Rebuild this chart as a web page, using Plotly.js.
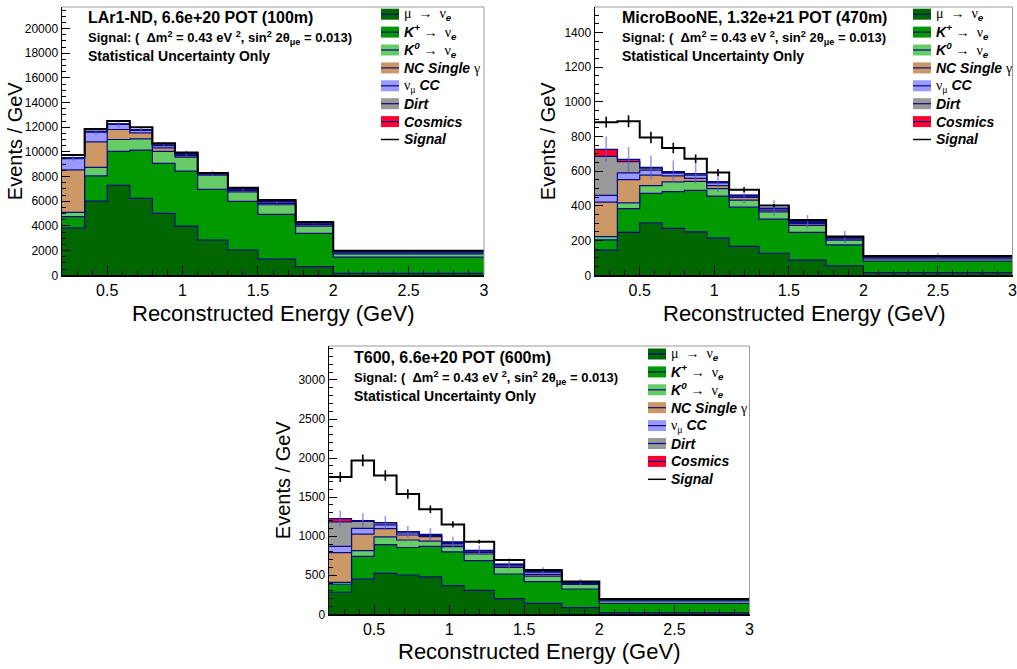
<!DOCTYPE html>
<html>
<head>
<meta charset="utf-8">
<script src="https://cdn.plot.ly/plotly-3.0.1.min.js"></script>
<style>html,body{margin:0;padding:0;background:#fff}#chart{width:1017px;height:669px}</style>
</head>
<body>
<div id="chart"></div>
<script>
// ---------- data (Events / GeV) ----------
const binEdges = [0.2, 0.35, 0.5, 0.65, 0.8, 0.95, 1.1, 1.3, 1.5, 1.75, 2.0, 3.0];

const componentNames = ["mu_to_nue", "kplus_to_nue", "k0_to_nue", "nc_single_gamma", "numu_cc", "dirt", "cosmics"];

// LAr1-ND, 6.6e+20 POT (100m)
const lar1ndMuToNue      = [3850, 6020, 7290, 6240, 5020, 3990, 2860, 2050, 1320, 700, 160];
const lar1ndKPlusToNue   = [900, 2040, 2750, 3910, 4050, 4460, 4110, 3940, 3620, 2700, 1320];
const lar1ndK0ToNue      = [350, 690, 970, 910, 970, 1130, 1150, 780, 780, 590, 245];
const lar1ndNCSingleGamma= [3450, 2070, 810, 490, 290, 120, 80, 110, 110, 110, 75];
const lar1ndNumuCC       = [900, 780, 410, 200, 190, 130, 50, 80, 120, 130, 100];
const lar1ndDirt         = [60, 50, 30, 40, 30, 20, 10, 20, 25, 20, 25];
const lar1ndCosmics      = [40, 30, 20, 30, 20, 10, 10, 10, 15, 10, 15];
const lar1ndSignal       = [200, 170, 220, 180, 130, 90, 30, 100, 110, 60, 50];
const lar1ndBkgErr       = [250, 280, 290, 280, 260, 250, 200, 190, 160, 130, 45];
const lar1ndSigErr       = [35, 35, 38, 35, 30, 25, 12, 22, 21, 15, 7];

// MicroBooNE, 1.32e+21 POT (470m)
const uboonMuToNue       = [145, 248, 303, 271, 250, 214, 167, 127, 88, 54, 15];
const uboonKPlusToNue    = [59, 136, 169, 212, 240, 243, 226, 197, 160, 121, 67];
const uboonK0ToNue       = [19, 34, 45, 56, 52, 43, 41, 42, 40, 28, 12];
const uboonNCSingleGamma = [199, 134, 61, 34, 17, 17, 15, 10, 10, 7, 6];
const uboonNumuCC        = [39, 38, 28, 16, 19, 16, 8, 8, 7, 7, 6];
const uboonDirt          = [225, 65, 12, 4, 6, 4, 4, 2, 2, 2, 2];
const uboonCosmics       = [40, 13, 4, 5, 3, 3, 2, 2, 2, 2, 2];
const uboonSignal        = [157, 220, 173, 136, 85, 53, 30, 14, 10, 3, 2];
const uboonBkgErr        = [73, 72, 69, 66, 62, 60, 47, 46, 38, 35, 19];
const uboonSigErr        = [31, 35, 33, 30, 25, 20, 14, 9, 6, 4, 2];

// T600, 6.6e+20 POT (600m)
const t600MuToNue        = [282, 450, 525, 503, 478, 366, 307, 200, 141, 85, 21];
const t600KPlusToNue     = [103, 292, 368, 352, 392, 432, 380, 316, 277, 239, 120];
const t600K0ToNue        = [25, 73, 99, 96, 66, 68, 85, 86, 72, 60, 29];
const t600NCSingleGamma  = [380, 211, 104, 64, 58, 21, 22, 18, 20, 11, 10];
const t600NumuCC         = [80, 75, 49, 26, 17, 22, 14, 15, 30, 10, 8];
const t600Dirt           = [314, 87, 24, 13, 9, 11, 7, 5, 8, 7, 4];
const t600Cosmics        = [42, 12, 6, 6, 4, 6, 5, 4, 6, 4, 3];
const t600Signal         = [532, 770, 602, 480, 322, 224, 110, 51, 13, 4, 2];
const t600BkgErr         = [100, 93, 86, 72, 80, 68, 62, 57, 47, 40, 14];
const t600SigErr         = [64, 75, 68, 62, 48, 40, 25, 16, 8, 4, 2];

const panelTitles = ["LAr1-ND, 6.6e+20 POT (100m)", "MicroBooNE, 1.32e+21 POT (470m)", "T600, 6.6e+20 POT (600m)"];
const signalText = "Signal: (  &#916;m<sup>2</sup> = 0.43 eV <sup>2</sup>, sin<sup>2</sup> 2&#952;<sub>&#956;e</sub> = 0.013)";
const uncertText = "Statistical Uncertainty Only";
const xTitle = "Reconstructed Energy (GeV)";
const yTitle = "Events / GeV";

const SERIF = "font-family:'Liberation Serif','DejaVu Serif',serif;font-weight:normal;font-style:normal";
const legendLabels = [
  `<span style="${SERIF}">&#956;  &#8594;  &#957;</span><sub><b><i>e</i></b></sub>`,
  `<b><i>K</i></b><sup><b><i>+</i></b></sup> <span style="${SERIF}">&#8594;  &#957;</span><sub><b><i>e</i></b></sub>`,
  `<b><i>K</i></b><sup><b><i>0</i></b></sup> <span style="${SERIF}">&#8594;  &#957;</span><sub><b><i>e</i></b></sub>`,
  `<b><i>NC Single</i></b> <span style="${SERIF}">&#947;</span>`,
  `<span style="${SERIF}">&#957;</span><sub><span style="${SERIF}">&#956;</span></sub> <b><i>CC</i></b>`,
  `<b><i>Dirt</i></b>`,
  `<b><i>Cosmics</i></b>`,
  `<b><i>Signal</i></b>`
];

// ---------- styles ----------
const fillColors = ["#006600", "#009900", "#66cc66", "#cc9966", "#9999ff", "#999999", "#ff0033"];
const outlineColor = "#0a0a80";
const FONT = "'Liberation Sans', Arial, Helvetica, sans-serif";
const W = 1017, H = 669;
const px = x => x / W;
const py = y => 1 - y / H;

const panels = [
  { comps: [lar1ndMuToNue, lar1ndKPlusToNue, lar1ndK0ToNue, lar1ndNCSingleGamma, lar1ndNumuCC, lar1ndDirt, lar1ndCosmics],
    signal: lar1ndSignal, bkgErr: lar1ndBkgErr, sigErr: lar1ndSigErr,
    box: [62, 484, 7, 275.3], yMax: 21750, dtick: 2000, minor: 500,
    textX: 86, textY: [17, 38, 55.5], legX: 381, legTextX: 402, legY0: 14.2,
    yTitleX: 15, xTitleY: 313 },
  { comps: [uboonMuToNue, uboonKPlusToNue, uboonK0ToNue, uboonNCSingleGamma, uboonNumuCC, uboonDirt, uboonCosmics],
    signal: uboonSignal, bkgErr: uboonBkgErr, sigErr: uboonSigErr,
    box: [595, 1012.5, 7, 275.3], yMax: 1547, dtick: 200, minor: 50,
    textX: 620, textY: [17, 38, 55.5], legX: 913, legTextX: 934, legY0: 14.2,
    yTitleX: 548, xTitleY: 313 },
  { comps: [t600MuToNue, t600KPlusToNue, t600K0ToNue, t600NCSingleGamma, t600NumuCC, t600Dirt, t600Cosmics],
    signal: t600Signal, bkgErr: t600BkgErr, sigErr: t600SigErr,
    box: [329, 749.5, 346, 614.3], yMax: 3435, dtick: 500, minor: 100,
    textX: 352, textY: [357, 378, 395.5], legX: 648, legTextX: 669, legY0: 354,
    yTitleX: 283, xTitleY: 651 }
];

const centers = binEdges.slice(0, -1).map((e, i) => (e + binEdges[i + 1]) / 2);
const traces = [];
const layout = {
  width: W, height: H, margin: { l: 0, r: 0, t: 0, b: 0 },
  paper_bgcolor: "#fff", plot_bgcolor: "#fff", showlegend: false,
  font: { family: FONT, color: "#000" },
  shapes: [], annotations: []
};

panels.forEach((p, k) => {
  const sfx = k === 0 ? "" : String(k + 1);
  const xa = "x" + sfx, ya = "y" + sfx;
  let cum = new Array(centers.length).fill(0);
  p.comps.forEach((vals, i) => {
    cum = cum.map((c, j) => c + vals[j]);
    traces.push({
      type: "scatter", mode: "lines", x: binEdges, y: cum.concat([cum[cum.length - 1]]),
      xaxis: xa, yaxis: ya, name: componentNames[i],
      line: { shape: "hv", color: outlineColor, width: 1.2 },
      fill: i === 0 ? "tozeroy" : "tonexty", fillcolor: fillColors[i], hoverinfo: "skip"
    });
  });
  const total = cum.slice();
  traces.push({
    type: "scatter", mode: "markers", x: centers, y: total, xaxis: xa, yaxis: ya,
    marker: { size: 1, opacity: 0 }, hoverinfo: "skip",
    error_y: { type: "data", array: p.bkgErr, visible: true, color: "rgba(90,90,220,0.6)", thickness: 1.6, width: 0 }
  });
  const sig = total.map((t, j) => t + p.signal[j]);
  traces.push({
    type: "scatter", mode: "lines", x: binEdges, y: sig.concat([sig[sig.length - 1]]),
    xaxis: xa, yaxis: ya, name: "signal", line: { shape: "hv", color: "#000", width: 2 }, hoverinfo: "skip"
  });
  traces.push({
    type: "scatter", mode: "markers", x: centers, y: sig, xaxis: xa, yaxis: ya,
    marker: { size: 1, opacity: 0 }, hoverinfo: "skip",
    error_y: { type: "data", array: p.sigErr, visible: true, color: "#000", thickness: 1.6, width: 0 }
  });

  const [x0, x1, y0, y1] = p.box;
  layout["xaxis" + sfx] = {
    domain: [px(x0), px(x1)], anchor: ya, range: [0.2, 3.0],
    tickmode: "linear", tick0: 0, dtick: 0.5, ticks: "inside", ticklen: 9, tickwidth: 1, tickcolor: "#000",
    minor: { dtick: 0.1, tick0: 0, ticks: "inside", ticklen: 5, tickwidth: 1, tickcolor: "#000", showgrid: false },
    showline: true, linecolor: "#000", linewidth: 1.5, showgrid: false, zeroline: false,
    ticklabeloverflow: "allow",
    tickfont: { family: FONT, size: 16, color: "#000" }, fixedrange: true
  };
  layout["yaxis" + sfx] = {
    domain: [py(y1), py(y0)], anchor: xa, range: [0, p.yMax],
    tickmode: "linear", tick0: 0, dtick: p.dtick, ticks: "inside", ticklen: 8, tickwidth: 1, tickcolor: "#000",
    minor: { dtick: p.minor, tick0: 0, ticks: "inside", ticklen: 4, tickwidth: 1, tickcolor: "#000", showgrid: false },
    showline: true, linecolor: "#000", linewidth: 1.5, showgrid: false, zeroline: false,
    tickformat: "d",
    tickfont: { family: FONT, size: 12, color: "#000" }, fixedrange: true
  };
  // grey top/right frame
  layout.shapes.push({ type: "line", xref: xa + " domain", yref: ya + " domain", x0: 0, x1: 1, y0: 1, y1: 1, line: { color: "#999", width: 1 } });
  layout.shapes.push({ type: "line", xref: xa + " domain", yref: ya + " domain", x0: 1, x1: 1, y0: 0, y1: 1, line: { color: "#999", width: 1 } });

  // header texts
  const heads = [
    { t: "<b>" + panelTitles[k] + "</b>", s: 16 },
    { t: "<b>" + signalText + "</b>", s: 13 },
    { t: "<b>" + uncertText + "</b>", s: 14 }
  ];
  heads.forEach((h, i) => layout.annotations.push({
    xref: "paper", yref: "paper", x: px(p.textX), y: py(p.textY[i]), xanchor: "left", yanchor: "middle",
    text: h.t, showarrow: false, font: { family: FONT, size: h.s, color: "#000" }
  }));

  // axis titles
  layout.annotations.push({
    xref: "paper", yref: "paper", x: px(p.yTitleX), y: py((y0 + y1) / 2), xanchor: "center", yanchor: "middle",
    text: yTitle, textangle: -90, showarrow: false, font: { family: FONT, size: 20, color: "#000" }
  });
  layout.annotations.push({
    xref: "paper", yref: "paper", x: px((x0 + x1) / 2), y: py(p.xTitleY), xanchor: "center", yanchor: "middle",
    text: xTitle, showarrow: false, font: { family: FONT, size: 22, color: "#000" }
  });

  // legend (ROOT style)
  const step = 17.9, sw = 18, sh = 11;
  legendLabels.forEach((lab, i) => {
    const cy = p.legY0 + i * step;
    if (i < fillColors.length) {
      layout.shapes.push({ type: "rect", xref: "paper", yref: "paper",
        x0: px(p.legX), x1: px(p.legX + sw), y0: py(cy + sh / 2), y1: py(cy - sh / 2),
        fillcolor: fillColors[i], line: { width: 0 } });
      layout.shapes.push({ type: "line", xref: "paper", yref: "paper",
        x0: px(p.legX), x1: px(p.legX + sw), y0: py(cy), y1: py(cy), line: { color: outlineColor, width: 1.2 } });
    } else {
      layout.shapes.push({ type: "line", xref: "paper", yref: "paper",
        x0: px(p.legX), x1: px(p.legX + sw), y0: py(cy), y1: py(cy), line: { color: "#000", width: 1.5 } });
    }
    layout.annotations.push({
      xref: "paper", yref: "paper", x: px(p.legTextX), y: py(cy), xanchor: "left", yanchor: "middle",
      text: lab, showarrow: false, font: { family: FONT, size: 14, color: "#000" }
    });
  });
});

Plotly.newPlot("chart", traces, layout, { staticPlot: true, displayModeBar: false });
</script>
</body>
</html>
